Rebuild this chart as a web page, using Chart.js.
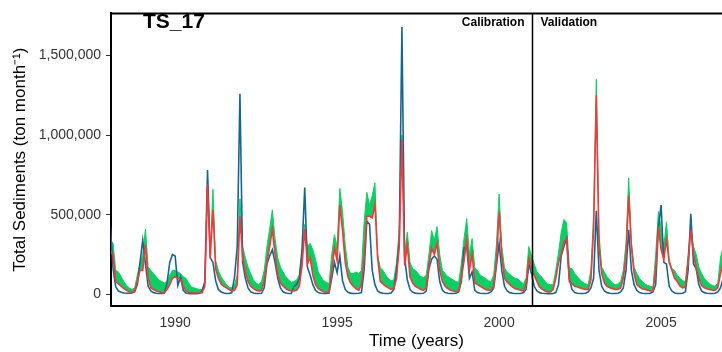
<!DOCTYPE html>
<html>
<head>
<meta charset="utf-8">
<script src="https://cdn.jsdelivr.net/npm/chart.js@4/dist/chart.umd.min.js"></script>
<style>
  html, body { margin: 0; padding: 0; background: #fff; }
  #chart { display: block; }
</style>
</head>
<body>
<canvas id="chart" width="722" height="352"></canvas>
<script>
// monthly totals, thousand tons per month (Jan..Dec, one row per year 1988-2006)
const observed = [
  430, 160, 45, 20, 12, 8, 6, 6, 8, 15, 60, 200,
  340, 190, 50, 20, 10, 6, 5, 5, 8, 70, 200, 250,
  240, 55, 110, 25, 8, 5, 4, 4, 4, 6, 20, 80,
  780, 230, 200, 85, 30, 15, 8, 5, 5, 10, 110, 300,
  1260, 200, 100, 40, 15, 8, 5, 5, 6, 40, 190, 240,
  280, 200, 100, 40, 15, 8, 5, 5, 50, 60, 100, 280,
  670, 170, 120, 60, 25, 10, 6, 5, 5, 8, 100, 200,
  135, 240, 85, 30, 12, 7, 5, 5, 6, 10, 150, 460,
  440, 150, 60, 20, 10, 6, 5, 5, 8, 30, 150, 330,
  1680, 230, 90, 30, 12, 7, 5, 5, 6, 20, 160, 220,
  240, 220, 80, 25, 10, 6, 5, 5, 6, 15, 80, 290,
  300, 100, 140, 25, 10, 6, 5, 5, 6, 15, 40, 180,
  320, 150, 50, 20, 10, 6, 5, 5, 5, 10, 30, 190,
  130, 50, 20, 10, 6, 5, 4, 4, 5, 10, 60, 240,
  300, 350, 100, 30, 10, 6, 5, 5, 6, 15, 40, 100,
  525, 150, 50, 20, 10, 6, 5, 5, 6, 15, 40, 150,
  405, 150, 60, 25, 10, 6, 5, 5, 6, 15, 60, 420,
  560, 200, 190, 50, 20, 8, 5, 5, 6, 15, 150, 505,
  190, 160, 60, 20, 10, 6, 5, 5, 6, 15, 40, 100
];

const simulated = [
  270, 250, 80, 65, 50, 35, 25, 15, 12, 20, 80, 150,
  150, 310, 100, 40, 30, 20, 15, 10, 10, 30, 60, 100,
  110, 100, 90, 50, 20, 12, 10, 8, 8, 8, 10, 50,
  690, 230, 530, 160, 100, 65, 50, 40, 30, 20, 25, 60,
  490, 230, 140, 80, 50, 35, 25, 20, 25, 80, 200, 300,
  410, 250, 120, 70, 50, 35, 25, 20, 20, 25, 50, 180,
  410, 190, 230, 120, 60, 35, 25, 15, 12, 15, 140, 290,
  210, 560, 400, 200, 110, 70, 50, 35, 25, 60, 230, 490,
  490, 480, 565, 230, 80, 65, 50, 40, 30, 35, 100, 300,
  970, 180, 310, 110, 70, 50, 40, 30, 25, 40, 180, 290,
  250, 320, 150, 80, 50, 35, 25, 20, 15, 20, 100, 210,
  345, 150, 250, 70, 60, 50, 40, 30, 25, 25, 50, 200,
  520, 230, 100, 75, 60, 45, 35, 30, 25, 20, 60, 225,
  160, 120, 80, 45, 30, 20, 15, 15, 30, 100, 200, 250,
  330, 350, 80, 65, 50, 45, 40, 35, 30, 30, 90, 400,
  1250, 300, 130, 70, 50, 40, 35, 30, 30, 40, 100, 230,
  620, 300, 130, 60, 45, 35, 30, 25, 20, 20, 150, 425,
  280, 220, 345, 200, 150, 100, 80, 50, 40, 45, 200, 405,
  250, 160, 100, 55, 40, 35, 30, 25, 25, 40, 130, 200
];

// upper edge of the green uncertainty band
const bandUpper = [
  340, 320, 150, 140, 110, 80, 55, 40, 30, 40, 120, 200,
  250, 410, 170, 150, 130, 110, 90, 80, 70, 80, 120, 150,
  150, 140, 130, 110, 100, 70, 45, 40, 35, 30, 30, 70,
  710, 260, 660, 210, 150, 110, 85, 60, 45, 40, 60, 120,
  600, 300, 230, 170, 130, 90, 70, 60, 80, 150, 300, 410,
  530, 350, 230, 170, 140, 110, 90, 75, 80, 90, 120, 260,
  440, 300, 320, 280, 220, 140, 110, 85, 75, 65, 250, 375,
  300, 665, 520, 310, 170, 130, 130, 140, 130, 150, 455, 640,
  560, 620, 700, 250, 165, 150, 120, 100, 85, 90, 200, 400,
  1000, 250, 390, 200, 160, 150, 130, 110, 105, 120, 250, 400,
  340, 425, 250, 150, 130, 110, 100, 90, 80, 75, 190, 350,
  475, 250, 350, 165, 150, 120, 110, 100, 85, 80, 120, 310,
  630, 300, 165, 140, 125, 110, 100, 95, 80, 65, 100, 300,
  240, 190, 140, 120, 105, 80, 65, 60, 60, 150, 260, 390,
  470, 450, 165, 160, 130, 110, 90, 75, 65, 60, 150, 500,
  1350, 380, 170, 140, 110, 90, 70, 60, 65, 80, 150, 320,
  730, 330, 170, 130, 100, 80, 65, 55, 50, 45, 250, 520,
  420, 300, 455, 220, 160, 150, 120, 100, 85, 80, 250, 425,
  300, 250, 170, 130, 100, 80, 65, 55, 50, 70, 230, 300
];

const xTicks = [1990, 1995, 2000, 2005];
const yTicks = [0, 500, 1000, 1500];
const yTickLabels = ['0', '500,000', '1,000,000', '1,500,000'];
const splitYear = 2001;

// decimal year of each month
const time = [];
for (let i = 0; i < observed.length; i++) time.push(1988 + i / 12);

const FONT = "'Liberation Sans', Arial, Helvetica, sans-serif";
const GREEN = '#0ccf63';
const RED = '#f7383a';
const BLUE = '#14678f';

const overlay = {
  id: 'overlay',
  afterDatasetsDraw(chart) {
    const { ctx, chartArea } = chart;
    const xs = chart.scales.x;
    const xSplit = Math.round(xs.getPixelForValue(splitYear)) + 0.5;
    ctx.save();
    // top frame line
    ctx.strokeStyle = '#000';
    ctx.lineWidth = 2;
    ctx.beginPath();
    ctx.moveTo(chartArea.left - 1, chartArea.top);
    ctx.lineTo(chartArea.right, chartArea.top);
    ctx.stroke();
    // calibration / validation split
    ctx.lineWidth = 1.5;
    ctx.beginPath();
    ctx.moveTo(xSplit, chartArea.top);
    ctx.lineTo(xSplit, chartArea.bottom);
    ctx.stroke();

    ctx.fillStyle = '#000';
    ctx.textBaseline = 'alphabetic';
    ctx.font = 'bold 21px ' + FONT;
    ctx.textAlign = 'left';
    ctx.fillText('TS_17', 143, 28);

    ctx.font = 'bold 12px ' + FONT;
    ctx.textAlign = 'right';
    ctx.fillText('Calibration', xSplit - 8, 26);
    ctx.textAlign = 'left';
    ctx.fillText('Validation', xSplit + 8, 26);
    ctx.restore();
  }
};

new Chart(document.getElementById('chart'), {
  type: 'line',
  data: {
    labels: time,
    datasets: [
      {
        label: 'band',
        data: bandUpper,
        borderColor: GREEN,
        borderWidth: 1,
        backgroundColor: GREEN,
        fill: 1,
        pointRadius: 0,
        order: 3
      },
      {
        label: 'Simulated',
        data: simulated,
        borderColor: RED,
        borderWidth: 1.6,
        pointRadius: 0,
        fill: false,
        order: 1
      },
      {
        label: 'Observed',
        data: observed,
        borderColor: BLUE,
        borderWidth: 1.6,
        pointRadius: 0,
        fill: false,
        order: 2
      }
    ]
  },
  options: {
    responsive: false,
    animation: false,
    devicePixelRatio: 1,
    layout: { padding: { top: 7, right: 0, left: 0, bottom: 0 } },
    plugins: {
      legend: { display: false },
      tooltip: { enabled: false }
    },
    scales: {
      x: {
        type: 'linear',
        min: 1988.02,
        max: 2006.88,
        afterBuildTicks: (s) => { s.ticks = xTicks.map(v => ({ value: v })); },
        afterFit: (s) => { s.height = 46; },
        border: { display: true, color: '#000', width: 2 },
        grid: { display: true, drawOnChartArea: false, drawTicks: false },
        ticks: {
          padding: 9,
          color: '#333',
          font: { family: FONT, size: 14 },
          maxRotation: 0,
          callback: (v) => String(v)
        },
        title: {
          display: true,
          text: 'Time (years)',
          color: '#000',
          font: { family: FONT, size: 17 },
          padding: { top: 0, bottom: 0 }
        }
      },
      y: {
        min: -74,
        max: 1765,
        afterBuildTicks: (s) => { s.ticks = yTicks.map(v => ({ value: v })); },
        afterFit: (s) => { s.width = 111; },
        border: { display: true, color: '#000', width: 2 },
        grid: { display: true, drawOnChartArea: false, drawTicks: true, tickLength: 5, color: '#333' },
        ticks: {
          padding: 5,
          color: '#333',
          font: { family: FONT, size: 14 },
          callback: (v, i) => yTickLabels[i]
        },
        title: {
          display: true,
          text: 'Total Sediments (ton month\u207B\u00B9)',
          color: '#000',
          font: { family: FONT, size: 17 },
          padding: { top: 10, bottom: 0 }
        }
      }
    }
  },
  plugins: [overlay]
});
</script>
</body>
</html>
